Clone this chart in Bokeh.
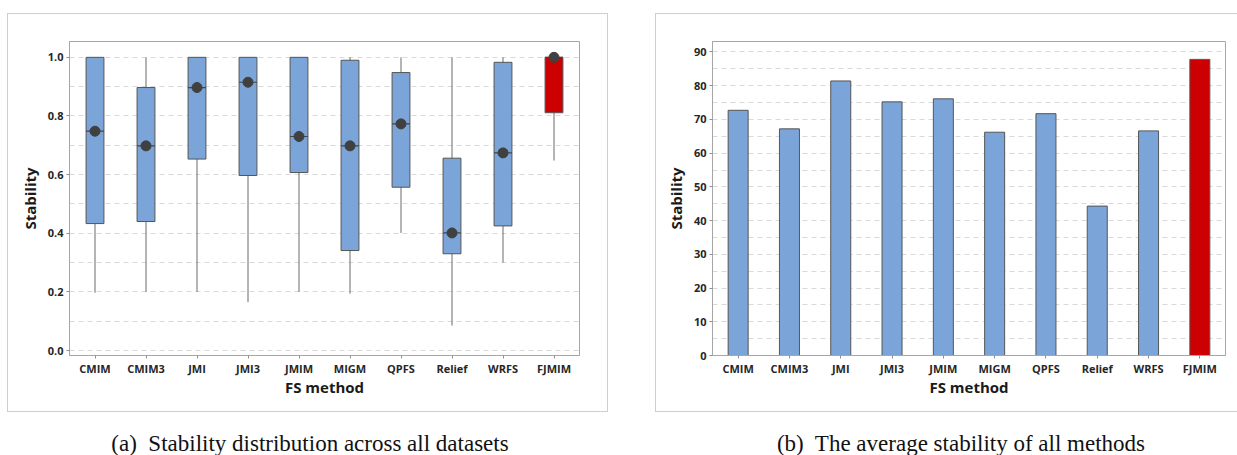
from bokeh.plotting import figure
from bokeh.models import (ColumnDataSource, FactorRange, Range1d, SingleIntervalTicker,
                          PrintfTickFormatter, Div, Spacer)
from bokeh.transform import dodge
from bokeh.layouts import column, row
from bokeh.embed import file_html
from bokeh.resources import INLINE

# ---------------- data ----------------
methods = ["CMIM", "CMIM3", "JMI", "JMI3", "JMIM", "MIGM", "QPFS", "Relief", "WRFS", "FJMIM"]
q1 = [0.433, 0.440, 0.653, 0.597, 0.607, 0.341, 0.557, 0.330, 0.425, 0.811]
q3 = [1.000, 0.897, 1.000, 1.000, 1.000, 0.990, 0.948, 0.656, 0.983, 1.000]
median = [0.748, 0.698, 0.897, 0.915, 0.730, 0.698, 0.773, 0.401, 0.674, 1.000]
mean_dot = [0.748, 0.698, 0.897, 0.915, 0.730, 0.698, 0.773, 0.401, 0.674, 1.000]
whisker_low = [0.197, 0.200, 0.200, 0.165, 0.200, 0.194, 0.401, 0.085, 0.300, 0.648]
whisker_high = [1.000, 1.000, 1.000, 1.000, 1.000, 1.000, 1.000, 1.000, 1.000, 1.000]
avg_stability = [72.7, 67.2, 81.4, 75.2, 76.1, 66.2, 71.7, 44.3, 66.6, 87.8]
highlight = "FJMIM"

BLUE = "#7BA5D8"
RED = "#CC0000"
EDGE = "#555555"
FONT = "Open Sans"
colors = [RED if m == highlight else BLUE for m in methods]


def style(p):
    p.outline_line_color = "#a6a6a6"
    p.outline_line_width = 1
    p.xgrid.grid_line_color = None
    p.ygrid.grid_line_color = "#d9d9d9"
    p.ygrid.grid_line_dash = "5 4"
    p.ygrid.grid_line_width = 1
    for ax in (p.xaxis[0], p.yaxis[0]):
        ax.axis_line_color = "#a6a6a6"
        ax.major_tick_line_color = "#909090"
        ax.major_tick_out = 3
        ax.major_tick_in = 0
        ax.minor_tick_line_color = None
        ax.major_label_text_font = FONT
        ax.major_label_text_font_size = "11px"
        ax.major_label_text_font_style = "bold"
        ax.major_label_text_color = "#262626"
        ax.axis_label_text_font = FONT
        ax.axis_label_text_font_size = "15px"
        ax.axis_label_text_font_style = "bold"
        ax.axis_label_text_color = "#1a1a1a"
    p.xaxis.axis_label = "FS method"
    p.yaxis.axis_label = "Stability"
    p.xaxis.major_label_standoff = 2
    p.xaxis.axis_label_standoff = -2
    p.yaxis.major_label_standoff = 3
    p.yaxis.axis_label_standoff = 5
    p.background_fill_color = "white"
    p.border_fill_color = "white"


# ---------------- panel (a): box plots ----------------
src = ColumnDataSource(dict(x=methods, q1=q1, q3=q3, med=median, dot=mean_dot,
                            lo=whisker_low, hi=whisker_high, color=colors))

pa = figure(width=601, height=399, x_range=FactorRange(*methods, range_padding=0),
            y_range=Range1d(-0.017, 1.054), output_backend="svg", toolbar_location=None,
            min_border_left=61, min_border_right=30, min_border_top=27, min_border_bottom=58)
style(pa)
pa.yaxis.ticker = SingleIntervalTicker(interval=0.2, num_minor_ticks=0)
pa.ygrid.ticker = SingleIntervalTicker(interval=0.1, num_minor_ticks=0)
pa.yaxis.formatter = PrintfTickFormatter(format="%.1f")

pa.segment(x0="x", y0="lo", x1="x", y1="hi", source=src, line_color="#6a6a6a", line_width=1)
pa.vbar(x="x", bottom="q1", top="q3", width=0.35, source=src,
        fill_color="color", line_color=EDGE, line_width=1)
pa.segment(x0=dodge("x", -0.175, range=pa.x_range), y0="med",
           x1=dodge("x", 0.175, range=pa.x_range), y1="med",
           source=src, line_color="#444444", line_width=1.2)
pa.scatter(x="x", y="dot", source=src, size=10, fill_color="#404040", line_color="#404040")
pa.styles = {"border": "1px solid #cfcfcf"}

# ---------------- panel (b): bar chart ----------------
src_b = ColumnDataSource(dict(x=methods, v=avg_stability, color=colors))
pb = figure(width=583, height=399, x_range=FactorRange(*methods, range_padding=0),
            y_range=Range1d(0, 93.1), output_backend="svg", toolbar_location=None,
            min_border_left=56, min_border_right=14, min_border_top=27, min_border_bottom=58)
style(pb)
pb.yaxis.ticker = SingleIntervalTicker(interval=10, num_minor_ticks=0)
pb.ygrid.ticker = SingleIntervalTicker(interval=5, num_minor_ticks=0)
pb.vbar(x="x", top="v", bottom=0, width=0.39, source=src_b,
        fill_color="color", line_color=EDGE, line_width=1)
pb.styles = {"border-top": "1px solid #cfcfcf", "border-left": "1px solid #cfcfcf",
             "border-bottom": "1px solid #cfcfcf"}

# ---------------- captions ----------------
cap_style = ("font-family:'Liberation Serif','Times New Roman',serif;font-size:23px;"
             "line-height:26px;color:#111;text-align:center;white-space:pre;")
cap_a = Div(text=f"<div style=\"{cap_style}width:610px\">(a)&nbsp; Stability distribution across all datasets</div>",
            width=610, height=27)
cap_b = Div(text=f"<div style=\"{cap_style}width:582px\">(b)&nbsp; The average stability of all methods</div>",
            width=582, height=27)

layout = column(
    Spacer(height=13),
    row(Spacer(width=7), pa, Spacer(width=47), pb),
    Spacer(height=14),
    row(cap_a, Spacer(width=45), cap_b),
)

open("out.html", "w").write(file_html(layout, INLINE))
